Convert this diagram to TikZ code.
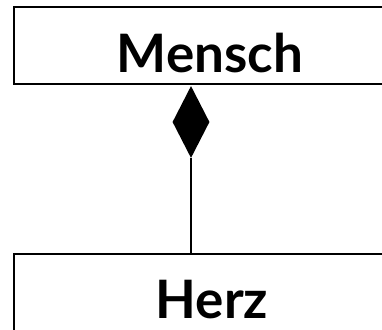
\documentclass[tikz,border=0pt]{standalone}
\usepackage{fontspec}
\setmainfont{Lato}
\usetikzlibrary{shapes.geometric}
\begin{document}
\begin{tikzpicture}[x=1pt,y=1pt,
  classbox/.style={draw=black,line width=2.2pt,rectangle,inner sep=0pt},
  classname/.style={font=\fontsize{53}{60}\selectfont\bfseries,anchor=base,inner sep=0pt},
  compo/.style={diamond,fill=black,draw=none,inner sep=0pt,minimum width=37pt,minimum height=72pt}]
\useasboundingbox (0,0) rectangle (382,329);
\node[classbox,minimum width=392pt,minimum height=77pt] (mensch) at (210,283.5) {};
\node[classname] (menschtxt) at (210,256) {Mensch};
\node[classbox,minimum width=392pt,minimum height=80pt] (herz) at (210,35) {};
\node[classname] (herztxt) at (212,11) {Herz};
\node[compo] (dia) at (191,207) {};
\draw[line width=2pt] (dia.south) -- (dia.south |- herz.north);
\end{tikzpicture}
\end{document}
